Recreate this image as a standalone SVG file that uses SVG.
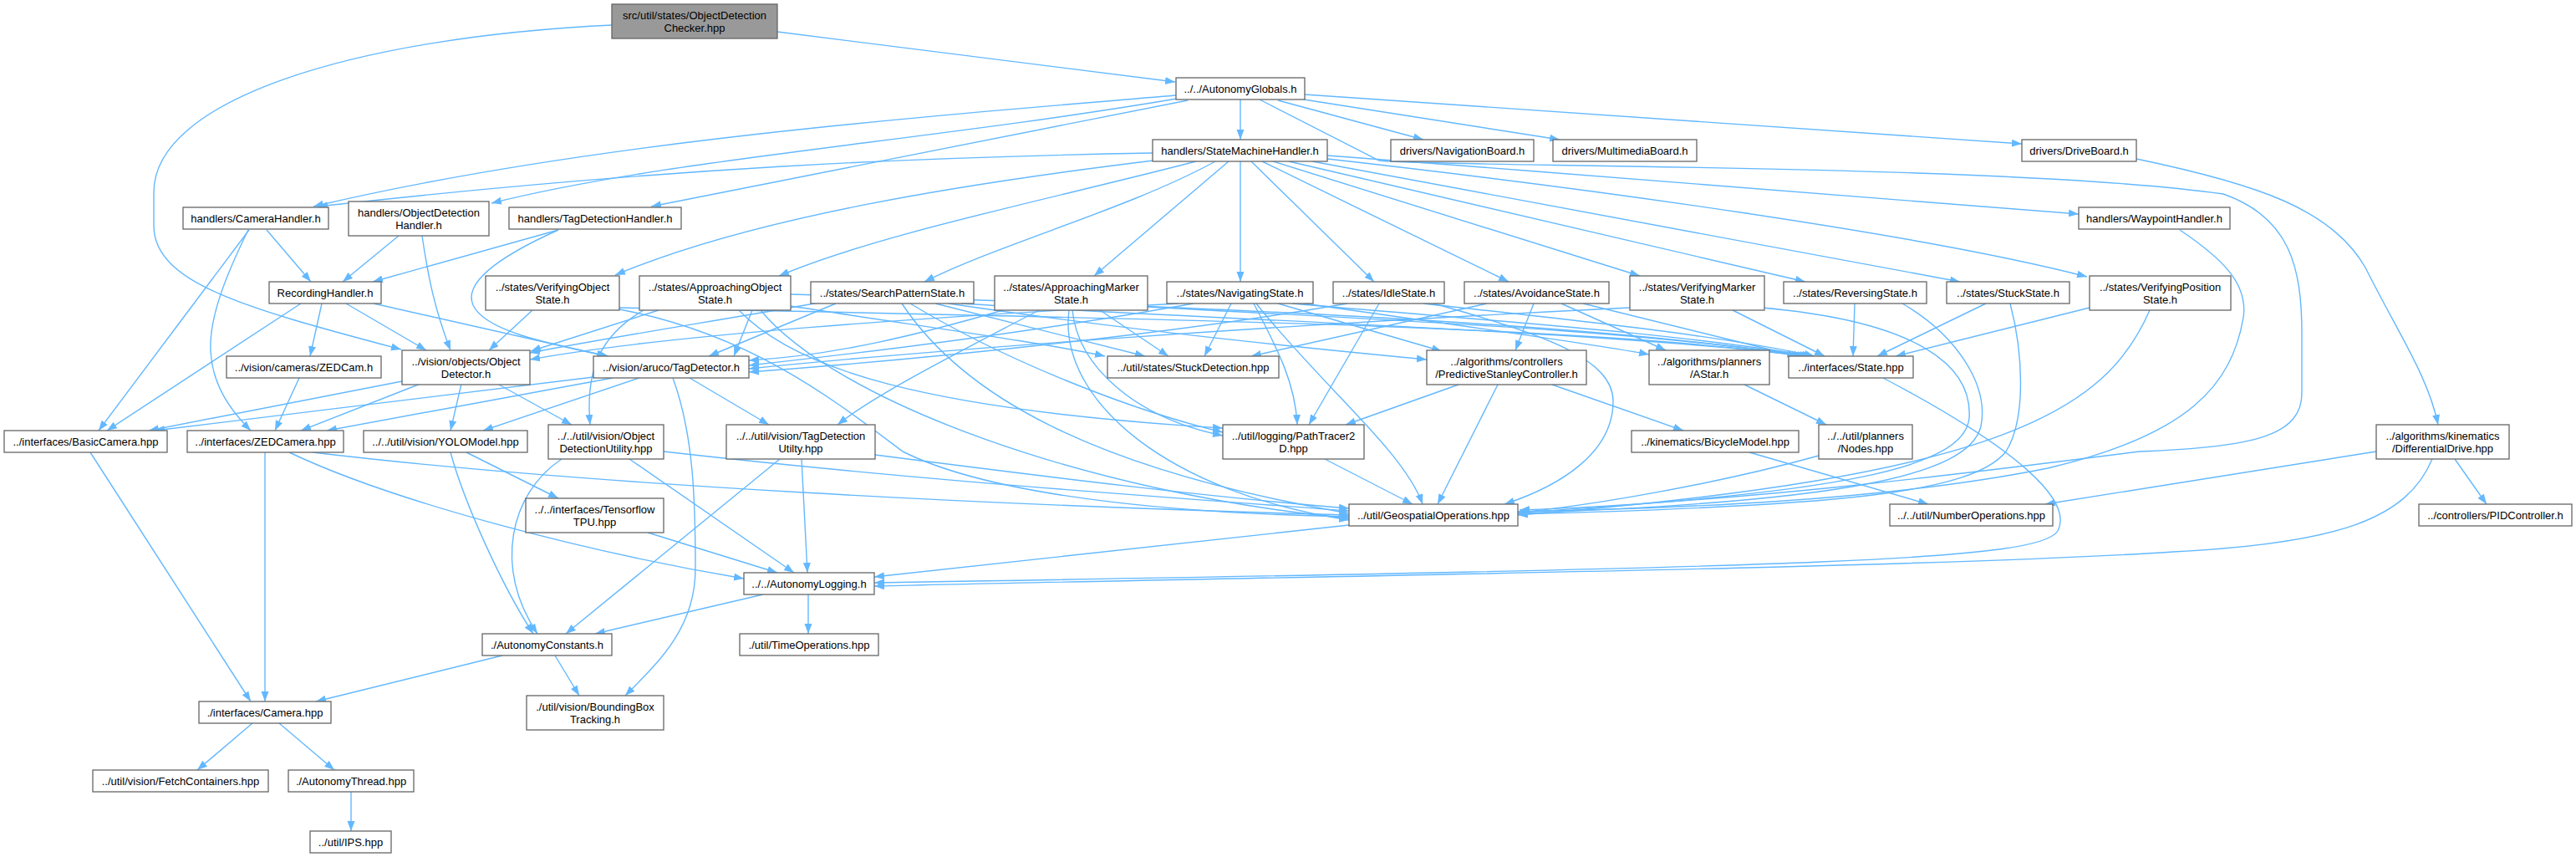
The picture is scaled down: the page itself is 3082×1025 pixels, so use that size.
<svg xmlns="http://www.w3.org/2000/svg" width="3082" height="1025" viewBox="0 0 3082 1025">
<style>
.node rect{fill:#ffffff;stroke:#666666;stroke-width:1.3}
.node.root rect{fill:#999999}
.node text{font-family:"Liberation Sans",Arial,Helvetica,sans-serif;font-size:13px;fill:#000000;text-anchor:middle}
#edges path{fill:none;stroke:#63b8ff;stroke-width:1.4;marker-end:url(#arr)}
</style>
<defs>
<marker id="arr" markerUnits="userSpaceOnUse" markerWidth="13" markerHeight="10" refX="12" refY="4.5" orient="auto">
<path d="M0,0L12,4.5L0,9z" fill="#63b8ff"/>
</marker>
</defs>
<rect width="3082" height="1025" fill="#ffffff"/>
<g id="edges">
<path d="M930,38 L1406,98"/>
<path d="M732,30 C420,45 184,120 184,230 L184,270 C184,340 300,370 480,418"/>
<path d="M1407,114 C1100,140 700,170 375,247"/>
<path d="M1408,118 C1100,170 800,190 588,243"/>
<path d="M1421,120 L779,247"/>
<path d="M1484,119 L1484,167"/>
<path d="M1529,120 L1703,167"/>
<path d="M1560,119 L1866,167"/>
<path d="M1561,113 L2419,172"/>
<path d="M1507,119 L1650,192 C1700,200 2400,195 2660,232 C2740,260 2754,320 2754,400 L2754,470 C2754,520 2700,535 2560,540 C2400,560 2100,600 1818,610"/>
<path d="M1379,183 C1100,188 800,200 380,247"/>
<path d="M1380,192 C1150,220 900,260 736,329"/>
<path d="M1431,193 C1250,240 1050,280 932,330"/>
<path d="M1454,193 C1350,250 1200,290 1106,337"/>
<path d="M1470,193 L1309,330"/>
<path d="M1484,193 L1484,337"/>
<path d="M1497,193 L1644,337"/>
<path d="M1510,193 L1805,337"/>
<path d="M1523,193 L1962,330"/>
<path d="M1542,193 L2160,337"/>
<path d="M1570,193 L2345,337"/>
<path d="M1588,190 C1900,225 2300,280 2497,331"/>
<path d="M1588,186 C1900,210 2250,235 2487,256"/>
<path d="M319,275 L372,337"/>
<path d="M298,275 L118,515"/>
<path d="M297,275 C270,330 250,380 252,420 C254,460 275,490 300,515"/>
<path d="M477,282 L410,337"/>
<path d="M505,282 C512,330 520,370 539,419"/>
<path d="M668,275 L446,337"/>
<path d="M668,275 C590,310 555,340 566,365 C580,395 650,410 728,426"/>
<path d="M385,363 L371,426"/>
<path d="M414,363 L510,419"/>
<path d="M447,363 L726,426"/>
<path d="M360,363 L128,515"/>
<path d="M358,452 L329,515"/>
<path d="M481,456 L178,515"/>
<path d="M503,459 L360,515"/>
<path d="M552,459 L539,515"/>
<path d="M595,459 L684,508"/>
<path d="M710,451 L185,515"/>
<path d="M733,452 L391,515"/>
<path d="M765,452 L578,515"/>
<path d="M825,452 L920,508"/>
<path d="M805,452 C830,520 832,600 832,680 C832,750 790,790 748,832"/>
<path d="M558,541 L668,596"/>
<path d="M539,541 C555,600 600,700 638,758"/>
<path d="M794,540 C1100,575 1400,595 1614,611"/>
<path d="M753,549 L950,685"/>
<path d="M672,549 C610,590 590,680 643,758"/>
<path d="M1047,544 C1250,570 1450,595 1614,608"/>
<path d="M959,549 L966,685"/>
<path d="M933,549 L677,758"/>
<path d="M775,637 L930,685"/>
<path d="M317,541 L317,839"/>
<path d="M374,541 C700,580 1200,605 1614,616"/>
<path d="M346,541 C470,600 700,660 890,692"/>
<path d="M108,541 L300,839"/>
<path d="M601,784 L378,839"/>
<path d="M664,784 L693,832"/>
<path d="M913,711 L712,758"/>
<path d="M967,711 L967,758"/>
<path d="M302,865 L236,921"/>
<path d="M334,865 L400,921"/>
<path d="M420,947 L420,994"/>
<path d="M1614,628 L1046,690"/>
<path d="M2253,452 C2420,540 2480,600 2462,635 C2440,670 2200,678 1046,697"/>
<path d="M2910,549 C2880,620 2800,650 2600,660 C2300,680 1500,690 1046,701"/>
<path d="M2843,540 L2447,603"/>
<path d="M2937,549 L2975,603"/>
<path d="M2556,190 C2700,220 2790,250 2830,320 C2870,400 2905,450 2917,508"/>
<path d="M2608,275 C2660,310 2690,340 2684,380 C2670,460 2620,520 2450,560 C2250,600 2000,608 1816,612"/>
<path d="M2093,541 L2307,603"/>
<path d="M2176,545 C2050,580 1900,605 1816,613"/>
<path d="M2087,460 L2185,508"/>
<path d="M1745,460 L1610,508"/>
<path d="M1792,460 L1720,603"/>
<path d="M1857,460 L2014,515"/>
<path d="M1585,549 L1690,603"/>
<path d="M637,371 L585,419"/>
<path d="M741,368 C1300,380 1900,388 2155,426"/>
<path d="M741,370 C900,400 1000,480 1080,540 C1200,600 1450,615 1614,618"/>
<path d="M788,371 L635,420"/>
<path d="M770,371 C720,400 700,440 706,508"/>
<path d="M900,371 L878,426"/>
<path d="M946,366 C1100,390 1250,410 1322,426"/>
<path d="M884,371 C950,440 1100,490 1463,512"/>
<path d="M910,371 C1000,480 1300,590 1614,620"/>
<path d="M946,352 C1400,365 1900,385 2158,426"/>
<path d="M1000,363 L848,426"/>
<path d="M980,362 C850,385 750,400 634,422"/>
<path d="M1119,363 L1370,426"/>
<path d="M1089,363 C1200,430 1350,490 1463,517"/>
<path d="M1079,363 C1150,470 1300,560 1614,614"/>
<path d="M1150,363 C1500,385 1900,395 2162,426"/>
<path d="M1135,363 C1350,395 1550,415 1707,430"/>
<path d="M1243,371 C1150,420 1050,470 1002,508"/>
<path d="M1200,371 C1100,400 1000,425 896,431"/>
<path d="M1316,371 L1398,426"/>
<path d="M1283,371 C1290,440 1360,500 1463,521"/>
<path d="M1279,371 C1265,480 1400,590 1614,622"/>
<path d="M1373,367 C1700,385 1950,395 2165,426"/>
<path d="M1428,363 C1250,395 1050,420 896,437"/>
<path d="M1410,363 C1100,380 800,400 634,430"/>
<path d="M1473,363 L1441,426"/>
<path d="M1500,363 C1530,420 1550,460 1552,508"/>
<path d="M1503,363 C1580,460 1680,540 1702,603"/>
<path d="M1529,363 L1725,420"/>
<path d="M1546,363 C1800,385 2000,398 2168,426"/>
<path d="M1560,363 C1750,390 1900,410 1973,424"/>
<path d="M1612,363 C1400,400 1100,430 896,445"/>
<path d="M1650,363 L1566,508"/>
<path d="M1703,363 C1900,385 2050,400 2171,426"/>
<path d="M1715,363 C1850,400 1930,430 1930,480 C1930,540 1870,580 1800,603"/>
<path d="M1779,363 L1497,426"/>
<path d="M1835,363 L1813,419"/>
<path d="M1868,363 L1993,419"/>
<path d="M1894,363 L2150,426"/>
<path d="M2073,371 L2183,426"/>
<path d="M1950,368 C1500,390 1100,420 896,441"/>
<path d="M2108,368 C2300,385 2360,440 2356,500 C2350,560 2200,590 1816,613"/>
<path d="M2219,363 L2217,426"/>
<path d="M2276,363 C2340,400 2380,460 2370,510 C2355,570 2200,600 1816,614"/>
<path d="M2376,363 L2246,426"/>
<path d="M2405,363 C2420,420 2425,500 2400,540 C2360,590 2200,605 1816,615"/>
<path d="M2500,368 L2268,426"/>
<path d="M2572,371 C2520,490 2400,570 1816,616"/>
</g>
<g id="nodes">
<g id="n1" class="node root"><rect x="732" y="5" width="198" height="41"/><text x="831" y="23">src/util/states/ObjectDetection</text><text x="831" y="37.5">Checker.hpp</text></g>
<g id="n2" class="node"><rect x="1407" y="93" width="154" height="26"/><text x="1484" y="110.5">../../AutonomyGlobals.h</text></g>
<g id="n3" class="node"><rect x="219" y="248" width="174" height="26"/><text x="306" y="265.5">handlers/CameraHandler.h</text></g>
<g id="n4" class="node"><rect x="417" y="241" width="168" height="41"/><text x="501" y="259">handlers/ObjectDetection</text><text x="501" y="273.5">Handler.h</text></g>
<g id="n5" class="node"><rect x="609" y="248" width="206" height="26"/><text x="712" y="265.5">handlers/TagDetectionHandler.h</text></g>
<g id="n6" class="node"><rect x="1379" y="167" width="209" height="26"/><text x="1483.5" y="184.5">handlers/StateMachineHandler.h</text></g>
<g id="n7" class="node"><rect x="1664" y="167" width="171" height="26"/><text x="1749.5" y="184.5">drivers/NavigationBoard.h</text></g>
<g id="n8" class="node"><rect x="1858" y="167" width="172" height="26"/><text x="1944" y="184.5">drivers/MultimediaBoard.h</text></g>
<g id="n9" class="node"><rect x="2419" y="167" width="137" height="26"/><text x="2487.5" y="184.5">drivers/DriveBoard.h</text></g>
<g id="n10" class="node"><rect x="2487" y="248" width="181" height="26"/><text x="2577.5" y="265.5">handlers/WaypointHandler.h</text></g>
<g id="n11" class="node"><rect x="322" y="337" width="134" height="26"/><text x="389" y="354.5">RecordingHandler.h</text></g>
<g id="n12" class="node"><rect x="581" y="330" width="160" height="41"/><text x="661" y="348">../states/VerifyingObject</text><text x="661" y="362.5">State.h</text></g>
<g id="n13" class="node"><rect x="765" y="330" width="181" height="41"/><text x="855.5" y="348">../states/ApproachingObject</text><text x="855.5" y="362.5">State.h</text></g>
<g id="n14" class="node"><rect x="970" y="337" width="195" height="26"/><text x="1067.5" y="354.5">../states/SearchPatternState.h</text></g>
<g id="n15" class="node"><rect x="1190" y="330" width="183" height="41"/><text x="1281.5" y="348">../states/ApproachingMarker</text><text x="1281.5" y="362.5">State.h</text></g>
<g id="n16" class="node"><rect x="1396" y="337" width="175" height="26"/><text x="1483.5" y="354.5">../states/NavigatingState.h</text></g>
<g id="n17" class="node"><rect x="1595" y="337" width="133" height="26"/><text x="1661.5" y="354.5">../states/IdleState.h</text></g>
<g id="n18" class="node"><rect x="1752" y="337" width="173" height="26"/><text x="1838.5" y="354.5">../states/AvoidanceState.h</text></g>
<g id="n19" class="node"><rect x="1950" y="330" width="161" height="41"/><text x="2030.5" y="348">../states/VerifyingMarker</text><text x="2030.5" y="362.5">State.h</text></g>
<g id="n20" class="node"><rect x="2134" y="337" width="171" height="26"/><text x="2219.5" y="354.5">../states/ReversingState.h</text></g>
<g id="n21" class="node"><rect x="2329" y="337" width="147" height="26"/><text x="2402.5" y="354.5">../states/StuckState.h</text></g>
<g id="n22" class="node"><rect x="2500" y="330" width="169" height="41"/><text x="2584.5" y="348">../states/VerifyingPosition</text><text x="2584.5" y="362.5">State.h</text></g>
<g id="n23" class="node"><rect x="271" y="426" width="185" height="26"/><text x="363.5" y="443.5">../vision/cameras/ZEDCam.h</text></g>
<g id="n24" class="node"><rect x="481" y="419" width="153" height="41"/><text x="557.5" y="437">../vision/objects/Object</text><text x="557.5" y="451.5">Detector.h</text></g>
<g id="n25" class="node"><rect x="710" y="426" width="186" height="26"/><text x="803" y="443.5">../vision/aruco/TagDetector.h</text></g>
<g id="n26" class="node"><rect x="1325" y="426" width="205" height="26"/><text x="1427.5" y="443.5">../util/states/StuckDetection.hpp</text></g>
<g id="n27" class="node"><rect x="1707" y="419" width="191" height="41"/><text x="1802.5" y="437">../algorithms/controllers</text><text x="1802.5" y="451.5">/PredictiveStanleyController.h</text></g>
<g id="n28" class="node"><rect x="1973" y="419" width="144" height="41"/><text x="2045" y="437">../algorithms/planners</text><text x="2045" y="451.5">/AStar.h</text></g>
<g id="n29" class="node"><rect x="2140" y="426" width="149" height="26"/><text x="2214.5" y="443.5">../interfaces/State.hpp</text></g>
<g id="n30" class="node"><rect x="5" y="515" width="195" height="26"/><text x="102.5" y="532.5">../interfaces/BasicCamera.hpp</text></g>
<g id="n31" class="node"><rect x="224" y="515" width="187" height="26"/><text x="317.5" y="532.5">../interfaces/ZEDCamera.hpp</text></g>
<g id="n32" class="node"><rect x="435" y="515" width="196" height="26"/><text x="533" y="532.5">../../util/vision/YOLOModel.hpp</text></g>
<g id="n33" class="node"><rect x="656" y="508" width="138" height="41"/><text x="725" y="526">../../util/vision/Object</text><text x="725" y="540.5">DetectionUtility.hpp</text></g>
<g id="n34" class="node"><rect x="869" y="508" width="178" height="41"/><text x="958" y="526">../../util/vision/TagDetection</text><text x="958" y="540.5">Utilty.hpp</text></g>
<g id="n35" class="node"><rect x="1463" y="508" width="169" height="41"/><text x="1547.5" y="526">../util/logging/PathTracer2</text><text x="1547.5" y="540.5">D.hpp</text></g>
<g id="n36" class="node"><rect x="1952" y="515" width="200" height="26"/><text x="2052" y="532.5">../kinematics/BicycleModel.hpp</text></g>
<g id="n37" class="node"><rect x="2176" y="508" width="112" height="41"/><text x="2232" y="526">../../util/planners</text><text x="2232" y="540.5">/Nodes.hpp</text></g>
<g id="n38" class="node"><rect x="2843" y="508" width="159" height="41"/><text x="2922.5" y="526">../algorithms/kinematics</text><text x="2922.5" y="540.5">/DifferentialDrive.hpp</text></g>
<g id="n39" class="node"><rect x="629" y="596" width="165" height="41"/><text x="711.5" y="614">../../interfaces/Tensorflow</text><text x="711.5" y="628.5">TPU.hpp</text></g>
<g id="n40" class="node"><rect x="1614" y="603" width="202" height="26"/><text x="1715" y="620.5">../util/GeospatialOperations.hpp</text></g>
<g id="n41" class="node"><rect x="2261" y="603" width="195" height="26"/><text x="2358.5" y="620.5">../../util/NumberOperations.hpp</text></g>
<g id="n42" class="node"><rect x="2894" y="603" width="183" height="26"/><text x="2985.5" y="620.5">../controllers/PIDController.h</text></g>
<g id="n43" class="node"><rect x="890" y="685" width="156" height="26"/><text x="968" y="702.5">../../AutonomyLogging.h</text></g>
<g id="n44" class="node"><rect x="577" y="758" width="155" height="26"/><text x="654.5" y="775.5">./AutonomyConstants.h</text></g>
<g id="n45" class="node"><rect x="885" y="758" width="166" height="26"/><text x="968" y="775.5">./util/TimeOperations.hpp</text></g>
<g id="n46" class="node"><rect x="238" y="839" width="158" height="26"/><text x="317" y="856.5">./interfaces/Camera.hpp</text></g>
<g id="n47" class="node"><rect x="630" y="832" width="164" height="41"/><text x="712" y="850">./util/vision/BoundingBox</text><text x="712" y="864.5">Tracking.h</text></g>
<g id="n48" class="node"><rect x="111" y="921" width="210" height="26"/><text x="216" y="938.5">../util/vision/FetchContainers.hpp</text></g>
<g id="n49" class="node"><rect x="345" y="921" width="150" height="26"/><text x="420" y="938.5">./AutonomyThread.hpp</text></g>
<g id="n50" class="node"><rect x="371" y="994" width="97" height="26"/><text x="419.5" y="1011.5">../util/IPS.hpp</text></g>
</g>
</svg>
